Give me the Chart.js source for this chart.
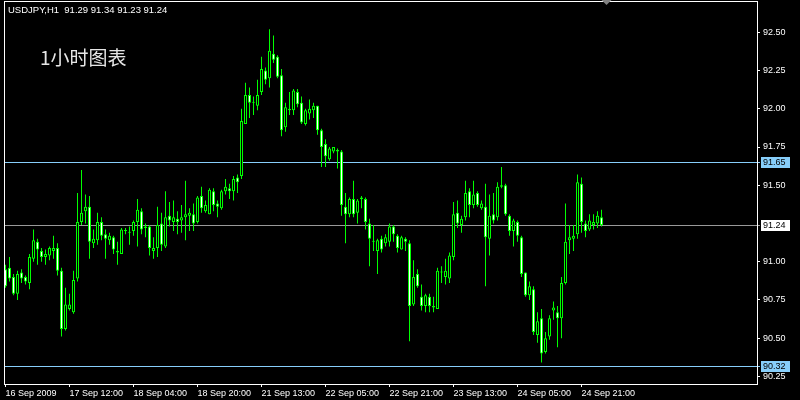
<!DOCTYPE html>
<html>
<head>
<meta charset="utf-8">
<title>USDJPY H1</title>
<script src="https://cdn.jsdelivr.net/npm/chart.js@4.4.1/dist/chart.umd.min.js"></script>
<style>
  html, body { margin: 0; padding: 0; background: #000; }
  #wrap { width: 800px; height: 400px; }
</style>
</head>
<body>
<div id="wrap"><canvas id="chart" width="800" height="400"></canvas></div>
<script>
const SYMBOL = 'USDJPY,H1';
const CAPTION = '1小时图表';

// hourly candles, oldest first
const opens = [
  90.95, 90.96, 90.90, 90.79, 90.93, 90.90, 90.86, 91.02, 91.13, 91.07,
  91.03, 91.04, 91.07, 91.09, 90.94, 90.56, 90.69, 90.67, 90.89, 91.26,
  91.33, 91.36, 91.12, 91.14, 91.26, 91.18, 91.14, 91.16, 91.07, 91.05,
  91.20, 91.19, 91.20, 91.26, 91.33, 91.22, 91.23, 91.07, 91.09, 91.25,
  91.10, 91.30, 91.26, 91.28, 91.27, 91.29, 91.30, 91.31, 91.26, 91.43,
  91.33, 91.31, 91.46, 91.38, 91.35, 91.46, 91.48, 91.46, 91.55, 91.56,
  91.90, 92.09, 92.04, 92.02, 92.11, 92.25, 92.20, 92.36, 92.34, 92.22,
  91.88, 92.00, 91.99, 92.11, 92.04, 91.90, 91.97, 91.99, 92.02, 91.86,
  91.77, 91.67, 91.72, 91.73, 91.72, 91.36, 91.31, 91.41, 91.32, 91.41,
  91.41, 91.25, 91.13, 91.07, 91.15, 91.12, 91.13, 91.23, 91.17, 91.08,
  91.15, 91.12, 90.72, 90.92, 90.77, 90.71, 90.77, 90.71, 90.69, 90.93,
  90.90, 90.89, 91.03, 91.32, 91.24, 91.29, 91.46, 91.37, 91.45, 91.35,
  91.36, 91.15, 91.31, 91.29, 91.49, 91.50, 91.30, 91.20, 91.26, 91.16,
  90.93, 90.78, 90.82, 90.52, 90.63, 90.41, 90.51, 90.68, 90.67, 90.63,
  90.86, 91.14, 91.15, 91.18, 91.51, 91.25, 91.21, 91.24, 91.25, 91.29
];
const highs = [
  90.98, 91.03, 90.92, 90.94, 90.95, 90.91, 91.05, 91.21, 91.15, 91.09,
  91.08, 91.10, 91.17, 91.12, 90.96, 90.83, 90.79, 90.94, 91.45, 91.60,
  91.44, 91.43, 91.21, 91.32, 91.29, 91.21, 91.19, 91.17, 91.13, 91.22,
  91.22, 91.23, 91.27, 91.41, 91.35, 91.25, 91.24, 91.16, 91.36, 91.32,
  91.46, 91.39, 91.40, 91.33, 91.37, 91.53, 91.35, 91.38, 91.43, 91.49,
  91.40, 91.48, 91.48, 91.40, 91.47, 91.54, 91.51, 91.56, 91.57, 92.00,
  92.17, 92.14, 92.08, 92.19, 92.34, 92.27, 92.52, 92.48, 92.35, 92.26,
  92.04, 92.11, 92.13, 92.13, 92.08, 92.00, 92.06, 92.04, 92.02, 91.87,
  91.80, 91.75, 91.75, 91.74, 91.73, 91.45, 91.42, 91.53, 91.41, 91.43,
  91.42, 91.28, 91.24, 91.15, 91.17, 91.18, 91.25, 91.24, 91.18, 91.17,
  91.16, 91.14, 91.01, 90.95, 90.85, 90.79, 90.79, 90.77, 90.96, 90.97,
  91.02, 91.06, 91.39, 91.40, 91.30, 91.53, 91.48, 91.53, 91.46, 91.40,
  91.51, 91.44, 91.45, 91.52, 91.62, 91.51, 91.31, 91.28, 91.27, 91.17,
  90.93, 90.87, 90.84, 90.67, 90.69, 90.54, 90.65, 90.74, 90.71, 90.90,
  91.38, 91.24, 91.24, 91.57, 91.55, 91.27, 91.31, 91.31, 91.33, 91.34
];
const lows = [
  90.83, 90.87, 90.78, 90.75, 90.86, 90.85, 90.82, 91.00, 90.98, 91.00,
  90.98, 91.01, 91.02, 90.91, 90.51, 90.55, 90.68, 90.66, 90.87, 91.24,
  91.25, 91.02, 91.09, 91.11, 91.14, 91.02, 91.11, 91.05, 90.98, 91.05,
  91.18, 91.11, 91.17, 91.10, 91.18, 91.16, 91.04, 91.02, 91.03, 91.07,
  91.09, 91.23, 91.20, 91.18, 91.19, 91.14, 91.20, 91.20, 91.25, 91.32,
  91.32, 91.31, 91.33, 91.29, 91.34, 91.44, 91.41, 91.40, 91.45, 91.54,
  91.90, 91.94, 91.96, 91.99, 92.09, 92.16, 92.14, 92.30, 92.20, 91.82,
  91.85, 91.96, 91.96, 92.01, 91.90, 91.89, 91.93, 91.94, 91.83, 91.62,
  91.62, 91.66, 91.71, 91.61, 91.30, 91.12, 91.29, 91.29, 91.25, 91.35,
  91.21, 90.97, 91.07, 90.92, 91.06, 91.10, 91.10, 91.13, 91.06, 91.08,
  91.07, 90.48, 90.71, 90.83, 90.68, 90.67, 90.67, 90.67, 90.69, 90.86,
  90.85, 90.86, 91.01, 91.22, 91.19, 91.27, 91.29, 91.35, 91.36, 91.34,
  90.84, 91.04, 91.25, 91.27, 91.48, 91.30, 91.17, 91.10, 91.13, 90.90,
  90.77, 90.75, 90.52, 90.47, 90.34, 90.40, 90.49, 90.62, 90.44, 90.50,
  90.85, 91.05, 91.07, 91.15, 91.19, 91.16, 91.20, 91.21, 91.22, 91.23
];
const closes = [
  90.84, 90.89, 90.79, 90.92, 90.89, 90.87, 91.03, 91.14, 91.08, 91.03,
  91.05, 91.09, 91.09, 90.94, 90.56, 90.72, 90.72, 90.88, 91.26, 91.32,
  91.36, 91.13, 91.15, 91.26, 91.17, 91.15, 91.17, 91.08, 91.06, 91.21,
  91.20, 91.19, 91.26, 91.34, 91.21, 91.23, 91.09, 91.09, 91.24, 91.11,
  91.29, 91.27, 91.29, 91.26, 91.29, 91.31, 91.32, 91.25, 91.42, 91.35,
  91.37, 91.47, 91.37, 91.36, 91.46, 91.49, 91.46, 91.54, 91.52, 91.92,
  92.09, 92.04, 92.04, 92.09, 92.26, 92.19, 92.38, 92.32, 92.21, 91.86,
  92.01, 91.99, 92.12, 92.03, 91.91, 91.99, 92.00, 92.02, 91.86, 91.75,
  91.69, 91.74, 91.75, 91.72, 91.37, 91.31, 91.41, 91.31, 91.40, 91.42,
  91.26, 91.15, 91.13, 91.14, 91.08, 91.16, 91.23, 91.18, 91.09, 91.16,
  91.13, 90.71, 90.90, 90.84, 90.71, 90.78, 90.71, 90.70, 90.94, 90.93,
  90.94, 91.04, 91.31, 91.25, 91.28, 91.45, 91.37, 91.44, 91.37, 91.38,
  91.16, 91.30, 91.27, 91.49, 91.50, 91.31, 91.20, 91.27, 91.17, 90.92,
  90.78, 90.84, 90.54, 90.61, 90.40, 90.50, 90.63, 90.70, 90.63, 90.86,
  91.13, 91.16, 91.17, 91.52, 91.26, 91.20, 91.27, 91.26, 91.30, 91.24
];

// time scale: one label every 16 bars
const xTickIndex = [0, 16, 32, 48, 64, 80, 96, 112, 128, 144];
const xTickText = [
  '16 Sep 2009', '17 Sep 12:00', '18 Sep 04:00', '18 Sep 20:00', '21 Sep 13:00',
  '22 Sep 05:00', '22 Sep 21:00', '23 Sep 13:00', '24 Sep 05:00', '24 Sep 21:00'
];

// price scale (91.25 sits under the bid tag, so it is left out)
const yTicks = [90.25, 90.50, 90.75, 91.00, 91.50, 91.75, 92.00, 92.25, 92.50];

// horizontal lines and their tags on the price scale
const levelPrices = [91.65, 91.24, 90.32];
const levelLineColors = ['#87cefa', '#999999', '#87cefa'];
const levelTagColors = ['#87cefa', '#ffffff', '#87cefa'];

const GREEN = '#00ff00';
const FONT = 'Liberation Sans';

Chart.defaults.font.family = FONT;

const wicks = lows.map((l, i) => ({ x: i, y: [l, highs[i]] }));
const bodies = opens.map((o, i) => ({ x: i, y: [o, closes[i]] }));
// bear candles are white, bull candles are black (MT4 default)
const bodyFill = opens.map((o, i) => (closes[i] < o ? '#ffffff' : '#000000'));

const mt4Overlay = {
  id: 'mt4Overlay',
  beforeDraw(chart) {
    const ctx = chart.ctx;
    ctx.save();
    ctx.fillStyle = '#000';
    ctx.fillRect(0, 0, chart.width, chart.height);
    ctx.restore();
  },
  beforeDatasetsDraw(chart) {
    const { ctx, chartArea, scales } = chart;
    ctx.save();
    ctx.lineWidth = 1;
    levelPrices.forEach((p, i) => {
      const y = Math.round(scales.y.getPixelForValue(p)) + 0.5;
      ctx.strokeStyle = levelLineColors[i];
      ctx.beginPath();
      ctx.moveTo(chartArea.left, y);
      ctx.lineTo(chartArea.right + 3, y);
      ctx.stroke();
    });
    ctx.restore();
  },
  afterDraw(chart) {
    const { ctx, chartArea, scales } = chart;
    const { left, top, right, bottom } = chartArea;
    ctx.save();

    // frame
    ctx.strokeStyle = '#ffffff';
    ctx.lineWidth = 1;
    ctx.strokeRect(left + 0.5, top + 0.5, right - left, bottom - top);

    // price tags
    ctx.font = '9px "' + FONT + '"';
    ctx.textBaseline = 'middle';
    ctx.textAlign = 'left';
    levelPrices.forEach((p, i) => {
      const y = Math.round(scales.y.getPixelForValue(p)) + 0.5;
      ctx.fillStyle = levelTagColors[i];
      ctx.fillRect(right + 4, y - 5.5, 29, 11);
      ctx.fillStyle = '#000';
      ctx.fillText(p.toFixed(2), right + 6, y + 0.5);
    });

    // chart shift marker
    const sx = Math.round(scales.x.getPixelForValue(opens.length)) + 0.5;
    ctx.fillStyle = '#808080';
    ctx.beginPath();
    ctx.moveTo(sx - 5, 0);
    ctx.lineTo(sx + 5, 0);
    ctx.lineTo(sx, 5);
    ctx.closePath();
    ctx.fill();

    // header with the last bar's OHLC
    const n = opens.length - 1;
    const header = SYMBOL + '  ' + [opens[n], highs[n], lows[n], closes[n]].map(v => v.toFixed(2)).join(' ');
    ctx.fillStyle = '#ffffff';
    ctx.font = '9.5px "' + FONT + '"';
    ctx.textBaseline = 'alphabetic';
    ctx.fillText(header, 8, 12.5);

    ctx.fillStyle = '#e6e6e6';
    ctx.font = '19px "Noto Sans CJK SC"';
    ctx.fillText(CAPTION, 40, 65);

    ctx.restore();
  }
};

new Chart(document.getElementById('chart'), {
  type: 'bar',
  data: {
    datasets: [
      {
        label: 'body',
        data: bodies,
        grouped: false,
        barThickness: 3,
        minBarLength: 1,
        backgroundColor: bodyFill,
        borderColor: GREEN,
        borderWidth: 1,
        borderSkipped: false,
        inflateAmount: 0
      },
      {
        label: 'wick',
        data: wicks,
        grouped: false,
        barThickness: 1,
        backgroundColor: GREEN,
        borderWidth: 0,
        inflateAmount: 0
      }
    ]
  },
  options: {
    responsive: false,
    animation: false,
    events: [],
    layout: { padding: { left: 4, top: 1, right: 0, bottom: 0 } },
    plugins: { legend: { display: false }, tooltip: { enabled: false } },
    scales: {
      x: {
        type: 'linear',
        min: -0.375,
        max: 187.875,
        offset: false,
        grid: { drawOnChartArea: false, drawTicks: true, tickLength: 3, color: '#ffffff', offset: false },
        border: { display: false },
        ticks: {
          color: '#ffffff',
          font: { size: 9 },
          padding: 1,
          align: 'start',
          maxRotation: 0,
          autoSkip: false,
          callback: (v, i) => xTickText[i]
        },
        afterBuildTicks: scale => { scale.ticks = xTickIndex.map(v => ({ value: v })); },
        afterFit: scale => { scale.height = 16; scale.paddingLeft = 0; scale.paddingRight = 0; }
      },
      y: {
        position: 'right',
        min: 90.2,
        max: 92.705,
        grid: { drawOnChartArea: false, drawTicks: true, tickLength: 3, color: '#ffffff' },
        border: { display: false },
        ticks: {
          color: '#ffffff',
          font: { size: 9 },
          padding: 3,
          autoSkip: false,
          callback: v => v.toFixed(2)
        },
        afterBuildTicks: scale => { scale.ticks = yTicks.map(v => ({ value: v })); },
        afterFit: scale => { scale.width = 43; scale.paddingTop = 0; scale.paddingBottom = 0; }
      }
    }
  },
  plugins: [mt4Overlay]
});
</script>
</body>
</html>
